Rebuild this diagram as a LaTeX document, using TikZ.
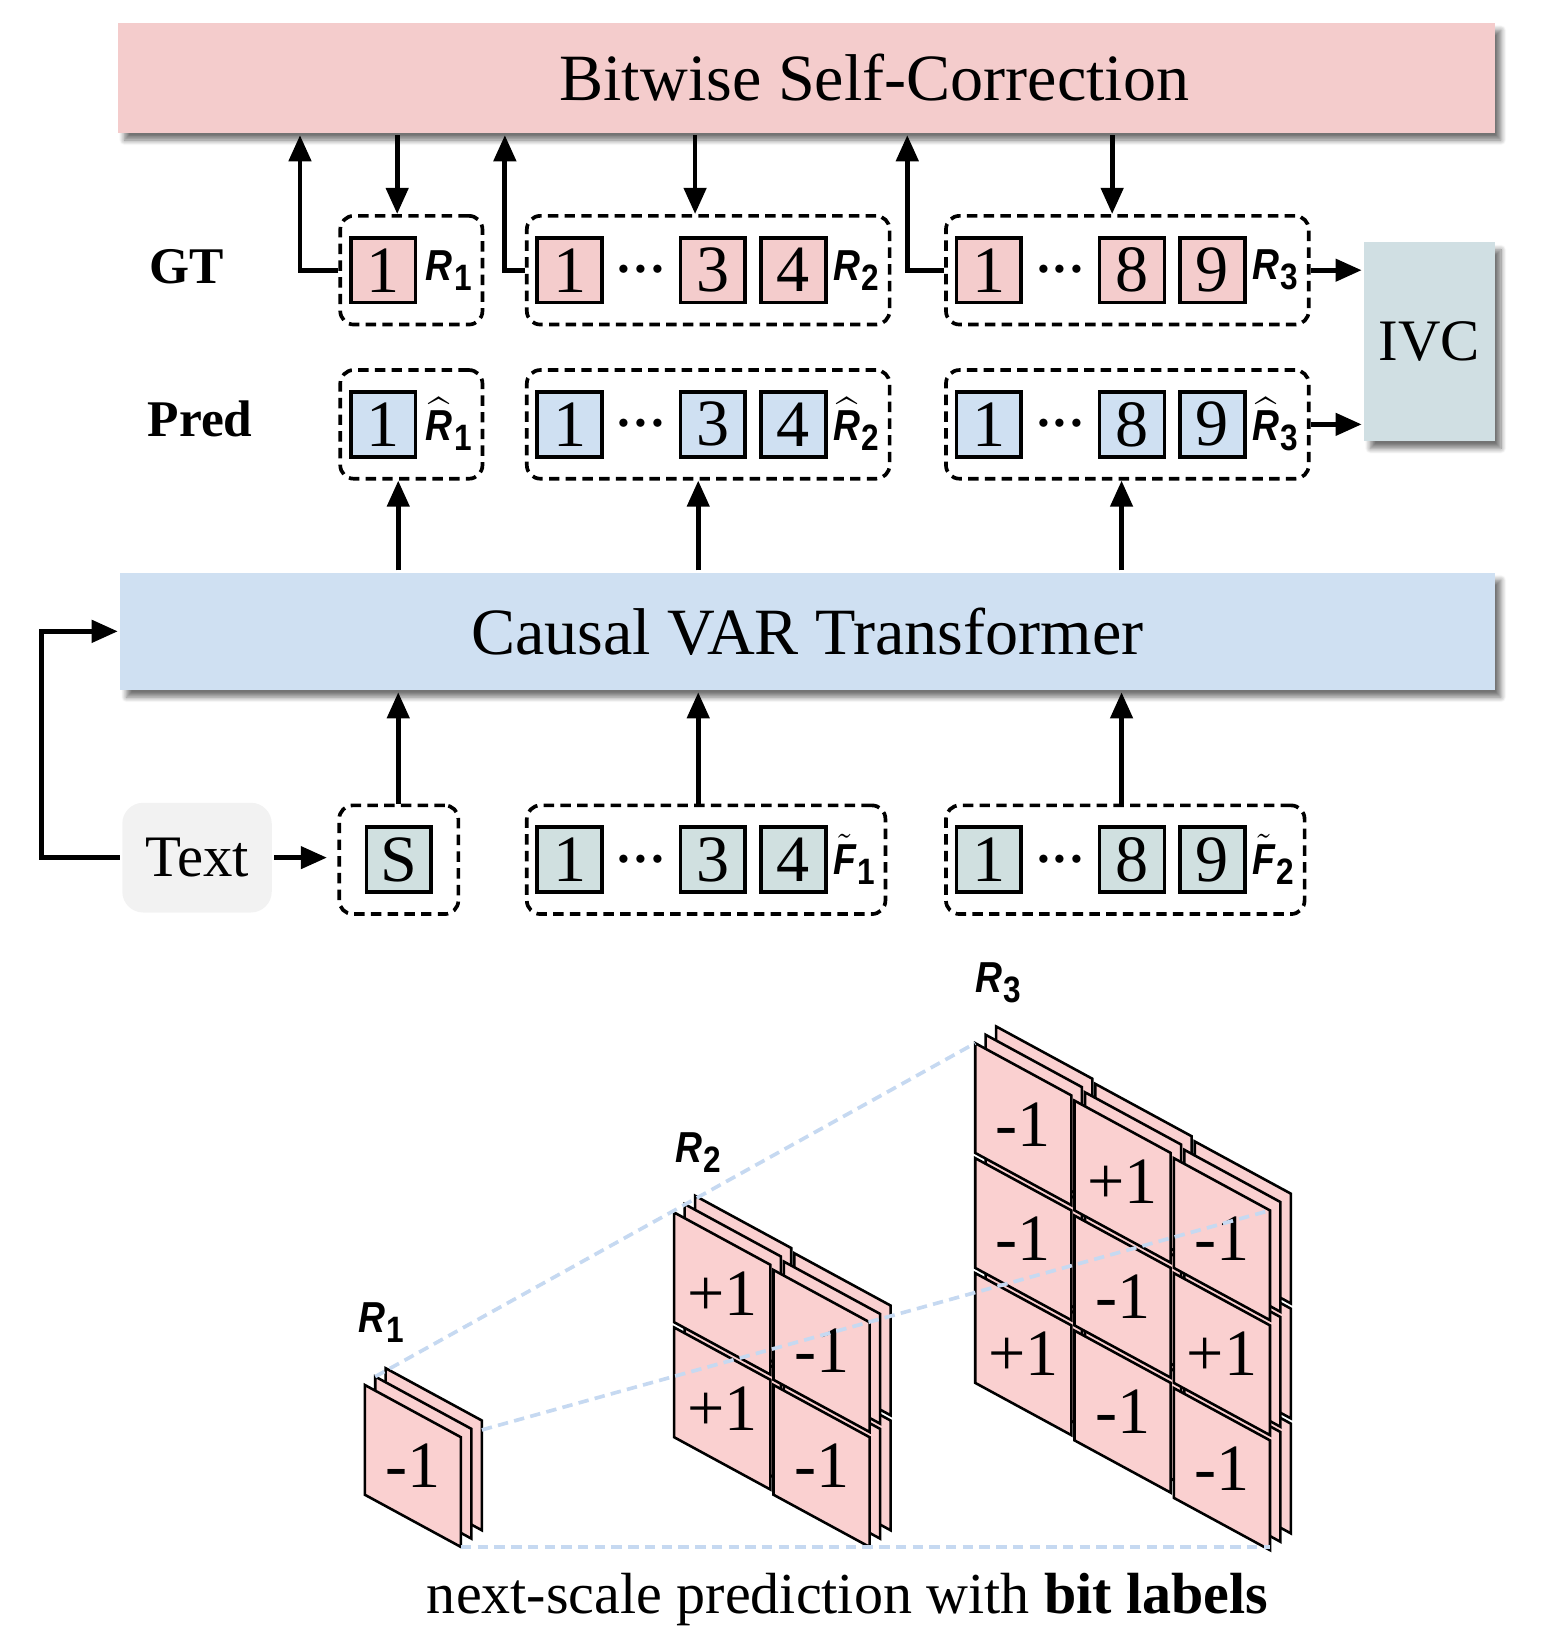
\documentclass[tikz,border=0pt]{standalone}
\usepackage{fontspec}
\setmainfont{Liberation Serif}
\setsansfont{Liberation Sans}
\usepackage{amsmath, graphicx}
\usetikzlibrary{positioning, fit, arrows.meta, shadows.blur}

\definecolor{gtpink}{HTML}{F4CCCC}
\definecolor{tilepink}{HTML}{FAD0D0}
\definecolor{predblue}{HTML}{CFE0F2}
\definecolor{ivcgray}{HTML}{D0DFE3}
\definecolor{featgray}{HTML}{D0E0E0}
\definecolor{textgray}{HTML}{F2F2F2}
\definecolor{projblue}{HTML}{C6D9F1}

\newcommand{\subl}[1]{\kern0.5pt\raisebox{-0.5ex}{\sffamily\bfseries\fontsize{10}{10}\selectfont #1}}
\newcommand{\rlab}[1]{\scalebox{0.86}[1]{{\sffamily\bfseries\itshape R}\subl{#1}}}
\newcommand{\rhatlab}[1]{\scalebox{0.86}[1]{$\widehat{\text{\sffamily\bfseries\itshape R}}$\subl{#1}}}
\newcommand{\ftillab}[1]{\scalebox{0.86}[1]{$\tilde{\text{\sffamily\bfseries\itshape F}}$\subl{#1}}}
\newcommand{\tdots}{${\cdot}{\cdot}{\cdot}$}

\begin{document}
\begin{tikzpicture}[
            x = 0.1mm, y = -0.1mm, % one unit per pixel, y downwards
            > = {Triangle[length=2.5mm, width=2.1mm]}, % arrow head style
            line width = 1.3pt
        ]

        \tikzstyle{tok}=[draw=black, line width=1pt, minimum size=6.2mm, inner sep=0pt, outer sep=0pt, font=\fontsize{18}{18}\selectfont]
        \tikzstyle{gt}=[tok, fill=gtpink]
        \tikzstyle{pred}=[tok, fill=predblue]
        \tikzstyle{feat}=[tok, fill=featgray]
        \tikzstyle{dotgap}=[minimum width=7.5mm, inner sep=0pt, outer sep=0pt, font=\fontsize{15}{15}\selectfont\boldmath]
        \tikzstyle{lab}=[inner sep=0pt, outer sep=0pt, font=\fontsize{11.8}{11.8}\selectfont]
        \tikzstyle{grp}=[draw=black, line width=1pt, dash pattern=on 1mm off 0.6mm, rounded corners=1.3mm, inner xsep=1mm, inner ysep=2.1mm]
        \tikzstyle{band}=[inner sep=0pt, font=\fontsize{18}{18}\selectfont, blur shadow={shadow xshift=0.6mm, shadow yshift=-0.7mm, shadow blur radius=0.5mm, shadow blur steps=8, shadow opacity=55}]
        \tikzstyle{tile}=[draw=black, line width=0.7pt, fill=tilepink]
        \tikzstyle{proj}=[draw=projblue, line width=1pt, dash pattern=on 1mm off 0.6mm]

        \useasboundingbox (0,0) rectangle (1487,1569);

        % big blocks
        \node[band, fill=gtpink, minimum width=131.7mm, minimum height=10.5mm,
              label={[font=\fontsize{18}{18}\selectfont, xshift=6.5mm]center:Bitwise Self-Correction}] (bsc) at (771.5,74.5) {};
        \node[band, fill=predblue, minimum width=131.5mm, minimum height=11.2mm] (var) at (772.5,604) {Causal VAR Transformer};
        \node[band, fill=ivcgray, minimum width=12.5mm, minimum height=19mm, font=\fontsize{16}{16}\selectfont] (ivc) at (1367.5,327) {IVC};
        \node[fill=textgray, rounded corners=2mm, minimum width=14.3mm, minimum height=10.5mm, inner sep=0pt, font=\fontsize{16}{16}\selectfont] (txt) at (188.5,820.5) {Text};

        \node[font=\bfseries\fontsize{14}{14}\selectfont] (gtl) at (178.5,255) {GT};
        \node[font=\bfseries\fontsize{14}{14}\selectfont] (prl) at (191.5,401) {Pred};

        % ground truth row
        \node[gt] (g1a) at (366.5,258.5) {1};
        \node[lab, right=1mm of g1a] (g1l) {\rlab{1}};
        \node[grp, fit=(g1a)(g1l)] (G1) {};

        \node[gt] (g2a) at (545,258.5) {1};
        \node[dotgap, right=0pt of g2a] (g2d) {\tdots};
        \node[gt, right=0pt of g2d] (g2b) {3};
        \node[gt, right=1.5mm of g2b] (g2c) {4};
        \node[lab, right=0.7mm of g2c] (g2l) {\rlab{2}};
        \node[grp, fit=(g2a)(g2l)] (G2) {};

        \node[gt] (g3a) at (946,258.5) {1};
        \node[dotgap, right=0pt of g3a] (g3d) {\tdots};
        \node[gt, right=0pt of g3d] (g3b) {8};
        \node[gt, right=1.5mm of g3b] (g3c) {9};
        \node[lab, right=0.7mm of g3c] (g3l) {\rlab{3}};
        \node[grp, fit=(g3a)(g3l)] (G3) {};

        % prediction row
        \node[pred] (p1a) at (366.5,406) {1};
        \node[lab, right=1mm of p1a] (p1l) {\rhatlab{1}};
        \node[grp, fit=(p1a)(p1l)] (P1) {};

        \node[pred] (p2a) at (545,406) {1};
        \node[dotgap, right=0pt of p2a] (p2d) {\tdots};
        \node[pred, right=0pt of p2d] (p2b) {3};
        \node[pred, right=1.5mm of p2b] (p2c) {4};
        \node[lab, right=0.7mm of p2c] (p2l) {\rhatlab{2}};
        \node[grp, fit=(p2a)(p2l)] (P2) {};

        \node[pred] (p3a) at (946,406) {1};
        \node[dotgap, right=0pt of p3a] (p3d) {\tdots};
        \node[pred, right=0pt of p3d] (p3b) {8};
        \node[pred, right=1.5mm of p3b] (p3c) {9};
        \node[lab, right=0.7mm of p3c] (p3l) {\rhatlab{3}};
        \node[grp, fit=(p3a)(p3l)] (P3) {};

        % input row
        \node[feat] (s) at (381.5,822.5) {S};
        \node[grp, fit=(s), inner xsep=2.6mm] (S0) {};

        \node[feat] (f1a) at (545,822.5) {1};
        \node[dotgap, right=0pt of f1a] (f1d) {\tdots};
        \node[feat, right=0pt of f1d] (f1b) {3};
        \node[feat, right=1.5mm of f1b] (f1c) {4};
        \node[lab, right=0.7mm of f1c] (f1l) {\ftillab{1}};
        \node[grp, fit=(f1a)(f1l)] (F1) {};

        \node[feat] (f2a) at (946,822.5) {1};
        \node[dotgap, right=0pt of f2a] (f2d) {\tdots};
        \node[feat, right=0pt of f2d] (f2b) {8};
        \node[feat, right=1.5mm of f2b] (f2c) {9};
        \node[lab, right=0.7mm of f2c] (f2l) {\ftillab{2}};
        \node[grp, fit=(f2a)(f2l)] (F2) {};

        % arrows
        \draw[->] (G1.west) -| (287,0 |- bsc.south);
        \draw[->] (380,0 |- bsc.south) -- (380,0 |- G1.north);
        \draw[->] (G2.west) -| (483,0 |- bsc.south);
        \draw[->] (665,0 |- bsc.south) -- (665,0 |- G2.north);
        \draw[->] (G3.west) -| (868,0 |- bsc.south);
        \draw[->] (1064,0 |- bsc.south) -- (1064,0 |- G3.north);

        \draw[->] (G3.east) -- (G3.east -| ivc.west);
        \draw[->] (P3.east) -- (P3.east -| ivc.west);

        \draw[->] (381,0 |- var.north) -- (381,0 |- P1.south);
        \draw[->] (668,0 |- var.north) -- (668,0 |- P2.south);
        \draw[->] (1073,0 |- var.north) -- (1073,0 |- P3.south);
        \draw[->] (381,0 |- S0.north) -- (381,0 |- var.south);
        \draw[->] (668,0 |- F1.north) -- (668,0 |- var.south);
        \draw[->] (1073,0 |- F2.north) -- (1073,0 |- var.south);

        \draw[->, shorten >=1mm] (txt.east) -- (txt.east -| S0.west);
        \draw[->] (txt.west) -- (40,0 |- txt.west) |- (var.west);

        % bit label maps, three layers each
        \foreach \dep in {2,1,0}
          \foreach \ox/\oy/\cells in {349/1325/{0/0/-1},
                                      645/1160/{0/0/+1, 1/0/-1, 0/1/+1, 1/1/-1},
                                      933/998/{0/0/-1, 1/0/+1, 2/0/-1, 0/1/-1, 1/1/-1, 2/1/+1, 0/2/+1, 1/2/-1, 2/2/-1}}
            \foreach \col/\row/\bit in \cells {
              \begin{scope}[shift={(\ox+\col*95+\dep*10, \oy+\row*110+\col*55-\dep*8)}]
                \filldraw[tile] (0,0) -- (92,50) -- (92,155) -- (0,105) -- cycle;
                \ifnum\dep=0 \node[font=\fontsize{18}{18}\selectfont] (b\ox-\col-\row) at (46,77.5) {\bit}; \fi
              \end{scope}
            };

        \node[lab] (m1) at (365,1265) {\rlab{1}};
        \node[lab] (m2) at (668,1103) {\rlab{2}};
        \node[lab] (m3) at (955,940) {\rlab{3}};

        \coordinate (c1) at (359,1317);
        \coordinate (c3) at (933,998);
        \coordinate (d1) at (461,1368);
        \coordinate (d3) at (1215,1158);
        \coordinate (e1) at (441,1480);
        \coordinate (e3) at (1215,1480);
        \draw[proj] (c1) -- (c3);
        \draw[proj] (d1) -- (d3);
        \draw[proj] (e1) -- (e3);

        \node[font=\fontsize{15.8}{15.8}\selectfont] (cap) at (811,1530) {next-scale prediction with \textbf{bit labels}};
    \end{tikzpicture}
\end{document}
